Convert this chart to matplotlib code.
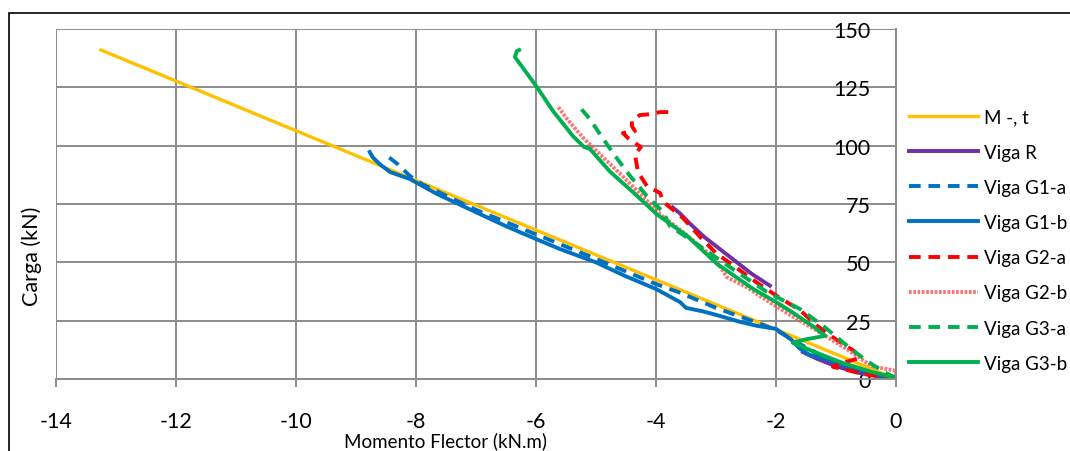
import numpy as np
import matplotlib.pyplot as plt
import matplotlib.patches as patches

plt.rcParams['font.family'] = ['Lato', 'DejaVu Sans']
plt.rcParams['axes.unicode_minus'] = False

# Momento (kN.m) / Carga (kN)
m_t_x = [0, -13.25]
m_t_y = [0, 141]

viga_r_x = [0, -0.3, -0.65, -1.0, -1.3, -1.55, np.nan, -2.1, -2.4, -2.7, -2.9, -3.2, -3.45, -3.6, -3.72]
viga_r_y = [0.5, 1.2, 2.8, 5.5, 8.5, 11.5, np.nan, 40, 45, 51, 55, 61, 67, 71, 73.5]

g1a_x = [0, -0.4, -0.72, -1.05, -1.6, -2.0, -2.3, -3.0, -3.6, -4.0, -5.0, -6.0, -7.0, -7.9, -8.1, -8.3, -8.45, -8.52]
g1a_y = [0, 2, 5.1, 7.3, 15, 21, 24, 30.5, 37, 40.7, 51.5, 62, 72.5, 83.5, 87, 92, 95, 97.7]

g1b_x = [0, -0.4, -0.8, -1.1, -1.45, -1.6, -1.75, -2.0, -2.3, -2.6, -3.0, -3.22, -3.5, -3.6, -4.0, -4.5, -5.0, -5.6,
         -6.0, -6.5, -7.0, -7.65, -8.1, -8.43, -8.6, -8.72, -8.77]
g1b_y = [0, 2.5, 5.5, 8, 10.5, 13, 17, 21.5, 22.7, 24.5, 27.5, 29, 30.5, 33, 38.6, 44, 50, 55.7,
         60, 65.5, 71.5, 79.3, 85.7, 88.7, 92, 95, 97.3]

g2a_x = [0, -0.5, -1.05, -0.95, -0.6, -0.7, -1.0, -1.3, -1.6, -1.95, -2.3, -2.65, -3.0, -3.25, -3.55, -3.88, -3.93,
         -4.15, -4.3, -4.35, -4.25, -4.45, -4.55, -4.35, -4.4, -4.4, -4.27, -4.1, -3.93, -3.73]
g2a_y = [0, 2, 5.2, 6.5, 9, 12, 17, 22.5, 29.5, 35, 41, 47.5, 54, 60.5, 69, 76, 79.7,
         82.7, 88.7, 96.4, 99.4, 102.9, 105.4, 106.3, 108.4, 110.6, 113.1, 113.5, 114.4, 114.4]

g2b_x = [0, 0, -0.4, -0.8, -1.3, -1.8, -2.27, -2.5, -2.82, -3.0, -3.5, -3.9, -4.25, -4.6, -4.9, -5.2, -5.48, -5.63]
g2b_y = [0, 3.5, 5.5, 12.5, 20.5, 28, 35.6, 39.5, 43.7, 51, 62, 70, 79, 88, 95.5, 103, 111.4, 116.6]

g3a_x = [0, -0.2, -0.5, -0.8, -1.2, -1.6, -2.15, -2.77, -3.27, -3.77, -3.88, -4.15, -4.43, -4.68, -4.88, -5.1, -5.3]
g3a_y = [0.5, 3, 8, 14, 22.5, 30, 37.3, 48, 57, 65.6, 71.6, 78.4, 87, 95.6, 102.9, 111.4, 117.4]

g3b_x = [0, -0.4, -0.9, -1.3, -1.72, -1.5, -1.18, -1.35, -1.72, -2.0, -2.38, -2.98, -3.48, -3.98, -4.38, -4.77,
         -5.1, -5.2, -5.38, -5.72, -5.98, -6.35, -6.32, -6.28]
g3b_y = [0.5, 3, 7, 11, 15.5, 17, 18.5, 22, 28.5, 33, 38.6, 49.3, 61.3, 70.5, 80, 89,
         98.6, 99.5, 104, 115, 125, 138, 140.5, 141]

fig = plt.figure(figsize=(10.7, 4.52), dpi=100)
ax = fig.add_axes([0.0523, 0.1593, 0.785, 0.7743])

ax.plot(m_t_x, m_t_y, color='#FFC000', lw=2.4, label='M -, t')
ax.plot(viga_r_x, viga_r_y, color='#7030A0', lw=2.8, label='Viga R')
ax.plot(g1a_x, g1a_y, color='#0070C0', lw=2.8, ls=(0, (3, 2)), label='Viga G1-a')
ax.plot(g1b_x, g1b_y, color='#0070C0', lw=2.8, label='Viga G1-b')
ax.plot(g2a_x, g2a_y, color='#FF0000', lw=2.8, ls=(0, (3, 2)), label='Viga G2-a')
ax.plot(g2b_x, g2b_y, color='#FF5050', lw=2.8, ls=(0, (0.7, 0.4)), alpha=0.8, label='Viga G2-b')
ax.plot(g3a_x, g3a_y, color='#00B050', lw=2.8, ls=(0, (3, 2)), label='Viga G3-a')
ax.plot(g3b_x, g3b_y, color='#00B050', lw=2.8, label='Viga G3-b')

ax.set_xlim(-14, 0)
ax.set_ylim(0, 150)
ax.set_xticks(range(-14, 1, 2))
ax.set_yticks(range(0, 151, 25))
ax.grid(True, color='#8C8C8C', lw=1.4)
ax.set_axisbelow(True)

for s in ['top', 'right']:
    ax.spines[s].set_visible(False)
ax.spines['left'].set_position(('data', 0))
ax.spines['left'].set_color('#8C8C8C')
ax.spines['left'].set_linewidth(1.4)
ax.spines['bottom'].set_color('#8C8C8C')
ax.spines['bottom'].set_linewidth(1.4)

ax.tick_params(axis='x', direction='out', length=6, width=1.4, color='#8C8C8C', pad=17, labelsize=15.5)
ax.tick_params(axis='y', length=0, pad=18, labelsize=15.5)

ax.set_xlabel('Momento Flector (kN.m)', fontsize=13.5)
ax.xaxis.set_label_coords(0.464, -0.15)
ax.set_ylabel('Carga (kN)', fontsize=15.5)
ax.yaxis.set_label_coords(-0.017, 0.354)

ax.legend(loc='upper left', bbox_to_anchor=(0.8495, 0.758), bbox_transform=fig.transFigure,
          frameon=False, fontsize=13.5, handlelength=3.7, handletextpad=0.3,
          labelspacing=0.97, borderpad=0, borderaxespad=0)

fig.patches.append(patches.Rectangle((9 / 1070, -0.1), 2, 1 - 14 / 452 + 0.1, transform=fig.transFigure,
                                     fill=False, ec='black', lw=1.2))

fig.savefig('out.png', dpi=100)
